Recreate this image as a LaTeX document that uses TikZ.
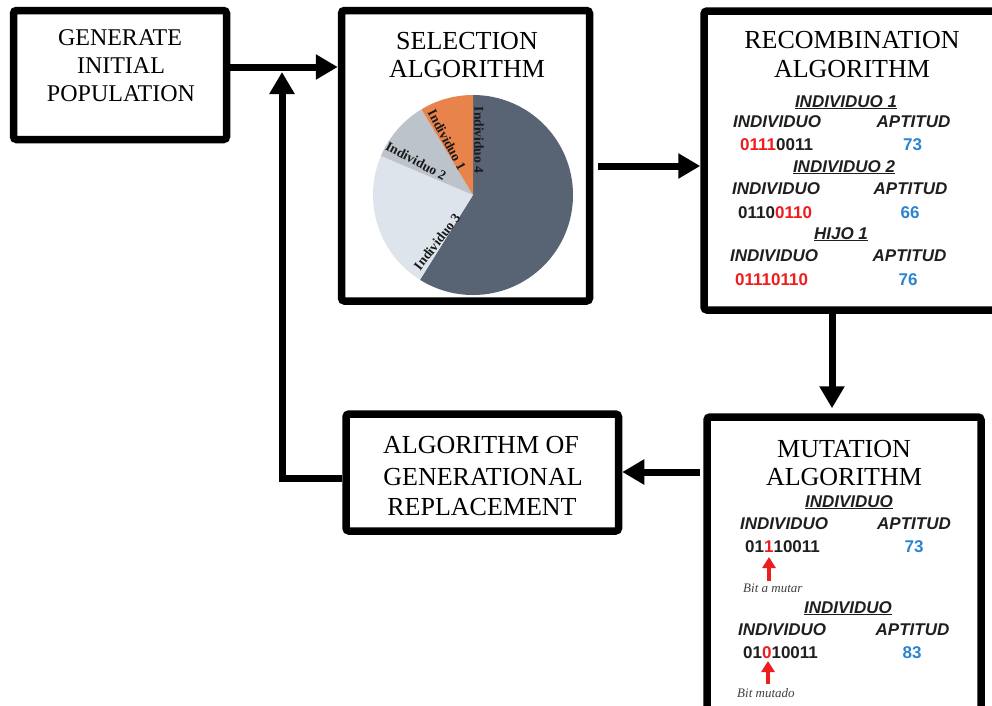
\documentclass[tikz,border=0pt]{standalone}
\usepackage{fontspec}
\setmainfont{Liberation Serif}
\newfontfamily\sansf{Liberation Sans}
\usetikzlibrary{arrows.meta}
\definecolor{myred}{RGB}{238,28,28}
\definecolor{myblue}{RGB}{42,132,208}
\definecolor{pieA}{RGB}{88,99,116}
\definecolor{pieB}{RGB}{221,228,235}
\definecolor{pieC}{RGB}{188,195,203}
\definecolor{pieD}{RGB}{233,131,76}
\tikzset{
  box/.style={draw, line width=7.5pt, rounded corners=3pt, inner sep=0pt},
  arr/.style={line width=7pt, line join=miter, -{Triangle[length=22pt,width=24pt]}},
  rarr/.style={line width=3.5pt, myred, -{Triangle[length=11pt,width=13pt]}},
  ttl/.style={font=\fontsize{26}{30}\selectfont, anchor=base, inner sep=0pt},
  ttlsmall/.style={font=\fontsize{24}{28}\selectfont, anchor=base, inner sep=0pt},
  lab/.style={font=\sansf\bfseries\itshape\fontsize{17}{20}\selectfont, inner sep=0pt, text=black!88},
  dig/.style={font=\sansf\bfseries\fontsize{17}{20}\selectfont, inner sep=0pt, text=black!88},
  fit/.style={font=\sansf\bfseries\fontsize{17}{20}\selectfont, inner sep=0pt, text=myblue, anchor=base},
  pielab/.style={font=\bfseries\fontsize{13.5}{15}\selectfont, inner sep=0pt, text=black!90},
  note/.style={font=\itshape\fontsize{13}{15}\selectfont, inner sep=0pt, text=black!75, anchor=base west}
}
\begin{document}
\begin{tikzpicture}[x=1pt,y=-1pt]
\useasboundingbox (0,0) rectangle (992,705);
\clip (0,0) rectangle (992,705);

% boxes
\node[box, minimum width=213pt, minimum height=129pt] (b1) at (120,75) {};
\node[box, minimum width=248pt, minimum height=290.5pt] (b2) at (465.5,155.75) {};
\node[box, minimum width=306pt, minimum height=299pt] (b3) at (857,160.5) {};
\node[box, minimum width=274pt, minimum height=303pt] (b4) at (844,568.5) {};
\node[box, minimum width=272.5pt, minimum height=117pt] (b5) at (482.25,472.5) {};

% titles
\node[ttlsmall] (t1a) at (120,45) {GENERATE};
\node[ttlsmall] (t1b) at (121,73) {INITIAL};
\node[ttlsmall] (t1c) at (121,101) {POPULATION};
\node[ttl] (t2a) at (467,49) {SELECTION};
\node[ttl] (t2b) at (467,77) {ALGORITHM};
\node[ttl] (t3a) at (852,48.5) {RECOMBINATION};
\node[ttl] (t3b) at (852,77) {ALGORITHM};
\node[ttl] (t4a) at (844,457) {MUTATION};
\node[ttl] (t4b) at (844,485) {ALGORITHM};
\node[ttl] (t5a) at (481,453) {ALGORITHM OF};
\node[ttl] (t5b) at (483,485) {GENERATIONAL};
\node[ttl] (t5c) at (482,515) {REPLACEMENT};

% pie
\fill[pieA] (473,195) -- ++(90:100pt) arc[start angle=90,end angle=-122,radius=100pt] -- cycle;
\fill[pieB] (473,195) -- ++(157:100pt) arc[start angle=157,end angle=238,radius=100pt] -- cycle;
\fill[pieC] (473,195) -- ++(121:100pt) arc[start angle=121,end angle=157,radius=100pt] -- cycle;
\fill[pieD] (473,195) -- ++(90:100pt) arc[start angle=90,end angle=121,radius=100pt] -- cycle;
\node[pielab, rotate=-90] (p4) at (479,140) {Individuo 4};
\node[pielab, rotate=-62] (p1) at (447,140) {Individuo 1};
\node[pielab, rotate=-28] (p2) at (416,161) {Individuo 2};
\node[pielab, rotate=52] (p3) at (437,242) {Individuo 3};

% recombination content
\node[lab, anchor=base] (h1) at (846,107) {\underline{INDIVIDUO 1}};
\node[lab, anchor=base west] (i1) at (733,127) {INDIVIDUO};
\node[lab, anchor=base] (a1) at (913.5,127) {APTITUD};
\node[dig, anchor=base west] (d1) at (740,150) {\textcolor{myred}{0111}0011};
\node[fit] (f1) at (912.5,150) {73};
\node[lab, anchor=base] (h2) at (844,172) {\underline{INDIVIDUO 2}};
\node[lab, anchor=base west] (i2) at (732,194) {INDIVIDUO};
\node[lab, anchor=base] (a2) at (910.5,194) {APTITUD};
\node[dig, anchor=base west] (d2) at (738,218) {0110\textcolor{myred}{0110}};
\node[fit] (f2) at (910,218) {66};
\node[lab, anchor=base] (h3) at (841,239) {\underline{HIJO 1}};
\node[lab, anchor=base west] (i3) at (730,261) {INDIVIDUO};
\node[lab, anchor=base] (a3) at (909.5,261) {APTITUD};
\node[dig, anchor=base west, text=myred] (d3) at (735,285) {01110110};
\node[fit] (f3) at (908,285) {76};

% mutation content
\node[lab, anchor=base] (mh1) at (849,507) {\underline{INDIVIDUO}};
\node[lab, anchor=base west] (mi1) at (740,529) {INDIVIDUO};
\node[lab, anchor=base] (ma1) at (914,529) {APTITUD};
\node[dig, anchor=base west] (md1) at (745,552) {01\textcolor{myred}{1}10011};
\node[fit] (mf1) at (914,552) {73};
\coordinate (rs1) at (769,581);
\coordinate (re1) at (769,557);
\draw[rarr] (rs1) -- (re1);
\node[note] (n1) at (743,592) {Bit a mutar};
\node[lab, anchor=base] (mh2) at (848,613) {\underline{INDIVIDUO}};
\node[lab, anchor=base west] (mi2) at (738,635) {INDIVIDUO};
\node[lab, anchor=base] (ma2) at (912.5,635) {APTITUD};
\node[dig, anchor=base west] (md2) at (743,658) {01\textcolor{myred}{0}10011};
\node[fit] (mf2) at (912,658) {83};
\coordinate (rs2) at (768,684);
\coordinate (re2) at (768,661);
\draw[rarr] (rs2) -- (re2);
\node[note] (n2) at (737,697) {Bit mutado};

% connectors
\coordinate (yA) at (0,67);
\draw[arr] (b1.east |- yA) -- (b2.west |- yA);
\coordinate (jn) at (282,72);
\coordinate (yL) at (0,478);
\draw[arr] (b5.west |- yL) -| (jn);
\coordinate (yB) at (0,166);
\draw[arr] ([xshift=5pt]b2.east |- yB) -- (b3.west |- yB);
\coordinate (xC) at (832,0);
\draw[arr, shorten >=5pt] (b3.south -| xC) -- (b4.north -| xC);
\coordinate (yD) at (0,472);
\draw[arr] ([xshift=-3pt]b4.west |- yD) -- (b5.east |- yD);
\end{tikzpicture}
\end{document}
